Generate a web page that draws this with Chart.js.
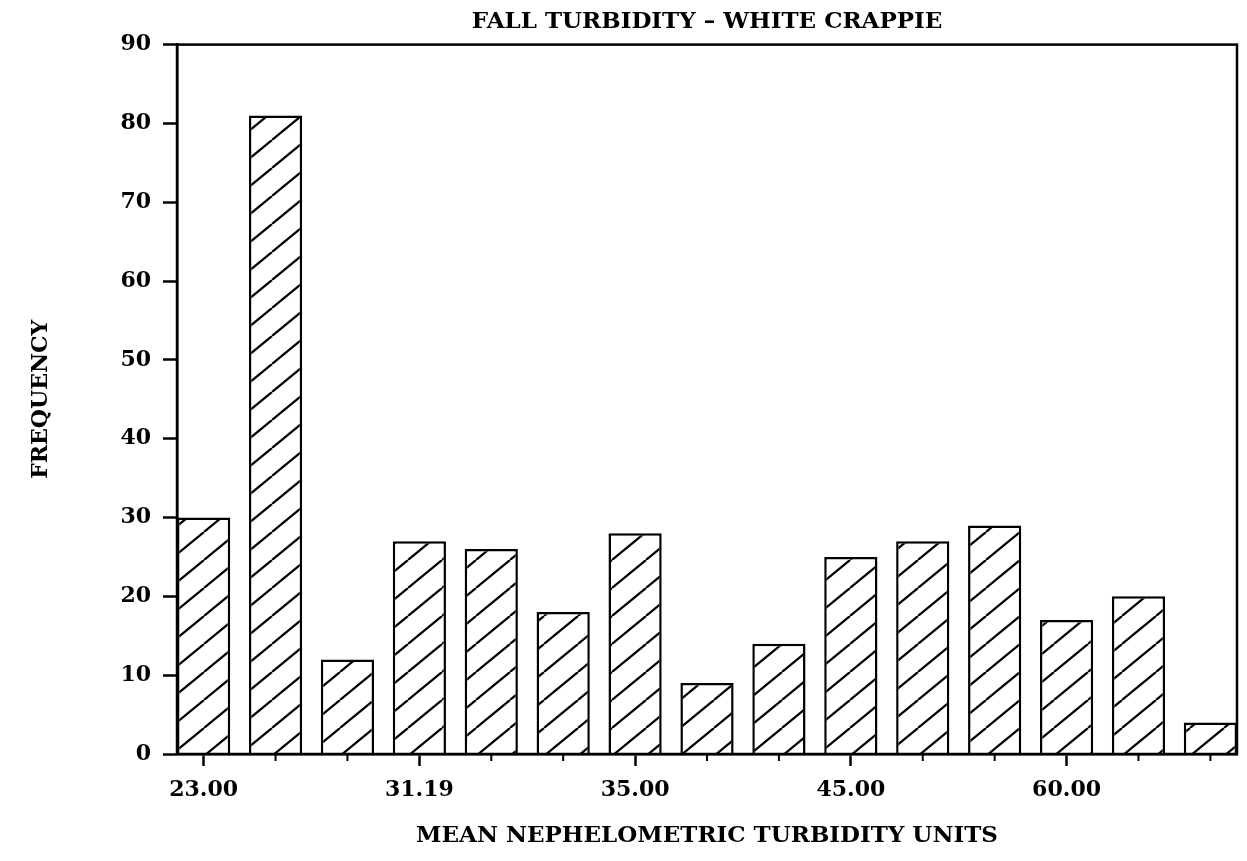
<!DOCTYPE html>
<html>
<head>
<meta charset="utf-8">
<script src="https://cdn.jsdelivr.net/npm/chart.js@4"></script>
<style>
  html, body { margin: 0; padding: 0; background: #fff; }
  #wrap { width: 1247px; height: 861px; }
</style>
</head>
<body>
<div id="wrap"><canvas id="chart" width="1247" height="861"></canvas></div>
<script>
// values
const binLabels = ['23.00', '', '', '31.19', '', '', '35.00', '', '', '45.00', '', '', '60.00', '', ''];
const frequency = [30, 81, 12, 27, 26, 18, 28, 9, 14, 25, 27, 29, 17, 20, 4];
const yTicks = [0, 10, 20, 30, 40, 50, 60, 70, 80, 90];

const FONT = '"DejaVu Serif", "Liberation Serif", serif';

function makeHatch() {
    const w = 34, h = 28;
    const c = document.createElement('canvas');
    c.width = w; c.height = h;
    const g = c.getContext('2d');
    g.fillStyle = '#fff';
    g.fillRect(0, 0, w, h);
    g.strokeStyle = '#000';
    g.lineWidth = 2.2;
    [-w, 0, w].forEach(dx => {
        g.beginPath();
        g.moveTo(dx, h);
        g.lineTo(dx + w, 0);
        g.stroke();
    });
    return g.createPattern(c, 'repeat');
}

const framePlugin = {
    id: 'frame',
    afterDraw(chart) {
        const { ctx, chartArea: a, scales } = chart;
        ctx.save();
        ctx.strokeStyle = '#000';
        ctx.lineWidth = 2.5;
        ctx.strokeRect(a.left, a.top, a.right - a.left, a.bottom - a.top);
        // short ticks under the unlabelled bars
        ctx.lineWidth = 2;
        frequency.forEach((v, i) => {
            if (binLabels[i]) return;
            const x = scales.x.getPixelForValue(i);
            ctx.beginPath();
            ctx.moveTo(x, a.bottom);
            ctx.lineTo(x, a.bottom + 7);
            ctx.stroke();
        });
        ctx.restore();
    }
};

const ctx = document.getElementById('chart');
new Chart(ctx, {
    type: 'bar',
    data: {
        datasets: [{
            data: frequency.map((v, i) => ({ x: i, y: v })),
            backgroundColor: makeHatch(),
            borderColor: '#000',
            borderWidth: 2.5,
            barPercentage: 0.74,
            categoryPercentage: 1
        }]
    },
    options: {
        responsive: false,
        animation: false,
        layout: { padding: { left: 16, right: 10, top: 0, bottom: 11 } },
        plugins: {
            legend: { display: false },
            tooltip: { enabled: false },
            title: {
                display: true,
                text: 'FALL TURBIDITY \u2013 WHITE CRAPPIE',
                fullSize: false,
                color: '#000',
                font: { family: FONT, size: 23, weight: 'bold' },
                padding: { top: 8, bottom: 9 }
            }
        },
        scales: {
            x: {
                type: 'linear',
                offset: false,
                min: -0.37,
                max: 14.37,
                afterBuildTicks: (axis) => {
                    axis.ticks = binLabels.map((l, i) => ({ value: i })).filter((t, i) => binLabels[i]);
                },
                ticks: {
                    autoSkip: false,
                    maxRotation: 0,
                    padding: 11,
                    color: '#000',
                    font: { family: FONT, size: 22, weight: 'bold' },
                    callback: (v) => binLabels[v]
                },
                grid: {
                    offset: false,
                    drawOnChartArea: false,
                    tickLength: 12,
                    tickWidth: 2.5,
                    color: '#000'
                },
                border: { display: true, color: '#000', width: 2.5 },
                title: {
                    display: true,
                    text: 'MEAN NEPHELOMETRIC TURBIDITY UNITS',
                    color: '#000',
                    font: { family: FONT, size: 23, weight: 'bold' },
                    padding: { top: 8, bottom: 0 }
                }
            },
            y: {
                min: 0,
                max: 90,
                afterBuildTicks: (axis) => {
                    axis.ticks = yTicks.map(v => ({ value: v }));
                },
                ticks: {
                    padding: 12,
                    color: '#000',
                    font: { family: FONT, size: 22, weight: 'bold' }
                },
                grid: {
                    drawOnChartArea: false,
                    tickLength: 14,
                    tickWidth: 2.5,
                    color: '#000'
                },
                border: { display: true, color: '#000', width: 2.5 },
                title: {
                    display: true,
                    text: 'FREQUENCY',
                    color: '#000',
                    font: { family: FONT, size: 22, weight: 'bold' },
                    padding: { top: 12, bottom: 54 }
                }
            }
        }
    },
    plugins: [framePlugin]
});
</script>
</body>
</html>
